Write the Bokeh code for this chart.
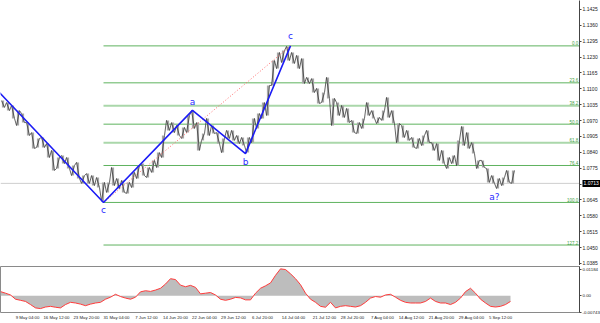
from bokeh.plotting import figure
from bokeh.layouts import column
from bokeh.models import Range1d, FixedTicker, PrintfTickFormatter, LinearAxis
from bokeh.embed import file_html
from bokeh.resources import INLINE
from bokeh.core.properties import value

# ---- data (EURUSD, H4 bars grouped ~1 day per entry) ----
highs = [1.1052, 1.1044, 1.1032, 1.1011, 1.0999, 1.0962, 1.0921, 1.0897, 1.0901, 1.0876,
         1.0848, 1.0819, 1.0827, 1.0819, 1.0786, 1.0799, 1.0745, 1.0753, 1.0745, 1.0737,
         1.0717, 1.0717, 1.0778, 1.0733, 1.0725, 1.0717, 1.0758, 1.0786, 1.0794, 1.0778,
         1.0807, 1.0839, 1.0909, 1.0971, 1.0962, 1.0950, 1.0942, 1.0991, 1.1011, 1.0962,
         1.0917, 1.0979, 1.0950, 1.0921, 1.0897, 1.0930, 1.0930, 1.0909, 1.0901, 1.0901,
         1.0979, 1.0999, 1.1044, 1.1114, 1.1216, 1.1249, 1.1257, 1.1274, 1.1249, 1.1237,
         1.1224, 1.1147, 1.1142, 1.1102, 1.1085, 1.1147, 1.1061, 1.1044, 1.1032, 1.1020,
         1.0971, 1.0962, 1.0979, 1.1044, 1.1011, 1.0983, 1.1011, 1.1065, 1.1011, 1.0958,
         1.0950, 1.0930, 1.0901, 1.0897, 1.0909, 1.0930, 1.0880, 1.0876, 1.0848, 1.0819,
         1.0827, 1.0889, 1.0946, 1.0921, 1.0880, 1.0807, 1.0807, 1.0774, 1.0745, 1.0733,
         1.0737, 1.0766, 1.0766]
lows = [1.1024, 1.1011, 1.0979, 1.0950, 1.0962, 1.0909, 1.0856, 1.0860, 1.0860, 1.0819,
        1.0766, 1.0774, 1.0794, 1.0774, 1.0745, 1.0733, 1.0713, 1.0713, 1.0704, 1.0696,
        1.0640, 1.0676, 1.0704, 1.0692, 1.0676, 1.0672, 1.0696, 1.0733, 1.0745, 1.0737,
        1.0758, 1.0778, 1.0819, 1.0930, 1.0921, 1.0909, 1.0897, 1.0921, 1.0938, 1.0848,
        1.0889, 1.0909, 1.0917, 1.0876, 1.0839, 1.0897, 1.0889, 1.0876, 1.0868, 1.0839,
        1.0880, 1.0938, 1.0979, 1.0991, 1.1114, 1.1183, 1.1208, 1.1216, 1.1204, 1.1183,
        1.1122, 1.1122, 1.1085, 1.1040, 1.1044, 1.1061, 1.0950, 1.0991, 1.0983, 1.0962,
        1.0921, 1.0917, 1.0938, 1.0991, 1.0979, 1.0958, 1.0971, 1.0983, 1.0958, 1.0880,
        1.0901, 1.0889, 1.0860, 1.0856, 1.0868, 1.0880, 1.0848, 1.0807, 1.0794, 1.0774,
        1.0794, 1.0786, 1.0868, 1.0856, 1.0835, 1.0774, 1.0778, 1.0717, 1.0713, 1.0692,
        1.0704, 1.0717, 1.0713]

macd = [0.0019, 0.0012, 0.0004, -0.0015, -0.0020, -0.0025, -0.0039, -0.0054, -0.0057, -0.0050,
        -0.0047, -0.0051, -0.0054, -0.0039, -0.0029, -0.0032, -0.0037, -0.0044, -0.0037, -0.0032,
        -0.0029, -0.0015, -0.0006, 0.0007, -0.0003, -0.0010, -0.0015, -0.0006, 0.0018, 0.0023,
        0.0020, 0.0026, 0.0034, 0.0053, 0.0077, 0.0073, 0.0048, 0.0041, 0.0047, 0.0038,
        0.0009, 0.0012, 0.0015, 0.0004, -0.0015, -0.0020, -0.0015, -0.0007, -0.0009, -0.0018,
        -0.0018, 0.0012, 0.0034, 0.0045, 0.0058, 0.0092, 0.0121, 0.0118, 0.0099, 0.0077,
        0.0050, 0.0012, -0.0015, -0.0029, -0.0047, -0.0051, -0.0029, -0.0054, -0.0047, -0.0044,
        -0.0047, -0.0050, -0.0044, -0.0029, -0.0010, -0.0003, -0.0006, 0.0004, 0.0007, -0.0006,
        -0.0020, -0.0029, -0.0032, -0.0032, -0.0032, -0.0025, -0.0010, -0.0025, -0.0032, -0.0032,
        -0.0039, -0.0029, -0.0010, 0.0019, 0.0034, 0.0012, -0.0015, -0.0032, -0.0047, -0.0050,
        -0.0047, -0.0039, -0.0025]

wave_x = [-1.5, 20.1, 37.9, 48.5, 57.5]
wave_y = [1.1102, 1.0635, 1.1012, 1.0835, 1.1276]
wave_labels = ["", "c", "a", "b", "c"]
last_label = "a?"
current_price = 1.0713
current_text = "1.0713"

fib_ratios = [0.0, 23.6, 38.2, 50.0, 61.8, 76.4, 100.0, 127.2]
fib_names = ["0.0", "23.6", "38.2", "50.0", "61.8", "76.4", "100.0", "127.2"]

price_ticks = [1.0385, 1.0450, 1.0515, 1.0580, 1.0645, 1.0710, 1.0775, 1.0840, 1.0905,
               1.0970, 1.1035, 1.1100, 1.1165, 1.1230, 1.1295, 1.1360, 1.1425]
ind_ticks = [0.01184, 0.0, -0.00743]
ind_tick_labels = ["0.01184", "0.00", "-0.00743"]
date_labels = ["9 May 04:00", "16 May 12:00", "23 May 20:00", "31 May 04:00", "7 Jun 12:00",
               "14 Jun 20:00", "22 Jun 04:00", "29 Jun 12:00", "6 Jul 20:00", "14 Jul 04:00",
               "21 Jul 12:00", "28 Jul 20:00", "7 Aug 04:00", "14 Aug 12:00", "21 Aug 20:00",
               "29 Aug 04:00", "5 Sep 12:00"]
date_pos = [4.9, 10.7, 16.7, 22.7, 28.7, 34.5, 40.3, 46.1, 51.9, 58.1, 64.3,
            69.9, 75.9, 81.7, 87.7, 93.7, 99.5]

FONT = "Liberation Sans"
FW = 579
FH = 265
X0 = -0.5
X1 = X0 + FW / 5.0
Y0, Y1 = 1.03768, 1.146185

# ---- main price panel ----
p1 = figure(frame_width=FW, frame_height=FH, output_backend="svg",
            toolbar_location=None, x_range=Range1d(X0, X1),
            y_range=Range1d(Y0, Y1), x_axis_location=None,
            y_axis_location="right", min_border_left=0, min_border_top=0,
            min_border_bottom=0, min_border_right=0)
p1.outline_line_color = None
p1.grid.visible = False

ax = p1.yaxis[0]
ax.ticker = FixedTicker(ticks=price_ticks)
ax.formatter = PrintfTickFormatter(format="%.4f")
ax.major_label_text_font_size = "5px"
ax.major_label_text_font = FONT
ax.major_label_text_color = "#222222"
ax.major_tick_out = 2
ax.major_tick_in = 0
ax.minor_tick_line_color = None
ax.major_label_standoff = 1
ax.axis_line_color = "#444444"
ax.major_tick_line_color = "#444444"

# current price marker on the price scale: an outer axis with a single tick,
# its tick drawn inward as a black box and its label pulled back over it
cur_ax = LinearAxis(ticker=FixedTicker(ticks=[current_price]),
                    major_label_overrides={current_price: current_text},
                    axis_line_color=None, minor_tick_line_color=None,
                    major_tick_out=0, major_tick_in=18, major_tick_line_width=7,
                    major_tick_line_color="black", major_tick_line_cap="butt",
                    major_label_standoff=-17, major_label_text_color="white",
                    major_label_text_font_size="5px", major_label_text_font=FONT)
p1.add_layout(cur_ax, "right")

# current price line
p1.line([X0, X1], [current_price, current_price], color="#cfcfcf", line_width=1)

# fibonacci levels from wave c low to c high
lo_v, hi_v = wave_y[1], wave_y[4]
fib_vals = [hi_v - r / 100.0 * (hi_v - lo_v) for r in fib_ratios]
for r, v in zip(fib_ratios, fib_vals):
    thick = r in (38.2, 61.8)
    p1.line([wave_x[1], X1], [v, v], color="#aad7aa" if thick else "#5fb35f",
            line_width=2 if thick else 1)
p1.text(x=[X1 - 0.25] * len(fib_vals), y=fib_vals, text=fib_names,
        text_align="right", text_baseline="bottom", text_font_size="4.5px",
        text_color="#3f9f3f", text_font=value(FONT), y_offset=-0.5)

# price bars
n = len(highs)
xs = list(range(n))
p1.segment(x0=xs, y0=lows, x1=xs, y1=highs, color="#a8a8a8", line_width=2.2)
zx, zy = [], []
for i in range(n):
    mid = (highs[i] + lows[i]) / 2
    nxt = (highs[i + 1] + lows[i + 1]) / 2 if i + 1 < n else mid
    a, b = (highs[i], lows[i]) if nxt < mid else (lows[i], highs[i])
    zx += [i - 0.3, i + 0.3]
    zy += [a, b]
p1.line(zx, zy, color="#3c3c3c", line_width=0.8)

# fib trend line (dotted red)
p1.line([wave_x[1], wave_x[4]], [wave_y[1], wave_y[4]], color="#ff6b6b",
        line_dash="1 2", line_width=1)

# wave lines
p1.line(wave_x, wave_y, color="#1c1cf5", line_width=1.6)
lab_x = [wave_x[1], wave_x[2], wave_x[3], wave_x[4], 98.3]
lab_y = [1.0606, 1.1048, 1.0799, 1.1315, 1.0659]
p1.text(x=lab_x, y=lab_y, text=wave_labels[1:] + [last_label], text_align="center",
        text_baseline="middle", text_font_size="9px", text_color="#2a2aff",
        text_font=value("DejaVu Sans"))

# ---- indicator panel ----
p2 = figure(frame_width=FW, frame_height=46, output_backend="svg",
            toolbar_location=None, x_range=p1.x_range,
            y_range=Range1d(-0.00746, 0.01316), y_axis_location="right",
            min_border_left=0, min_border_top=1, min_border_bottom=0, min_border_right=0)
p2.grid.visible = False
p2.outline_line_color = "#8a8a8a"
p2.outline_line_width = 1

ix = [j - 0.5 for j in range(len(macd))]
p2.varea(x=ix, y1=[0.0] * len(macd), y2=macd, fill_color="#bdbdbd")
p2.line(ix, macd, color="#ff3b3b", line_width=1)

ay = p2.yaxis[0]
ay.ticker = FixedTicker(ticks=ind_ticks)
ay.major_label_overrides = {t: s for t, s in zip(ind_ticks, ind_tick_labels)}
ay.major_label_text_font_size = "4.4px"
ay.major_label_text_font = FONT
ay.major_label_text_color = "#222222"
ay.major_tick_out = 2
ay.major_tick_in = 0
ay.minor_tick_line_color = None
ay.major_label_standoff = 1
ay.axis_line_color = "#444444"
ay.major_tick_line_color = "#444444"

axx = p2.xaxis[0]
axx.ticker = FixedTicker(ticks=date_pos)
axx.major_label_overrides = {t: s for t, s in zip(date_pos, date_labels)}
axx.major_label_text_font_size = "4.3px"
axx.major_label_text_font = FONT
axx.major_label_text_color = "#222222"
axx.major_tick_out = 0
axx.major_tick_in = 0
axx.major_tick_line_color = None
axx.minor_tick_line_color = None
axx.axis_line_color = None
axx.major_label_standoff = 2

layout = column(p1, p2, spacing=0)
open("out.html", "w").write(file_html(layout, INLINE))
